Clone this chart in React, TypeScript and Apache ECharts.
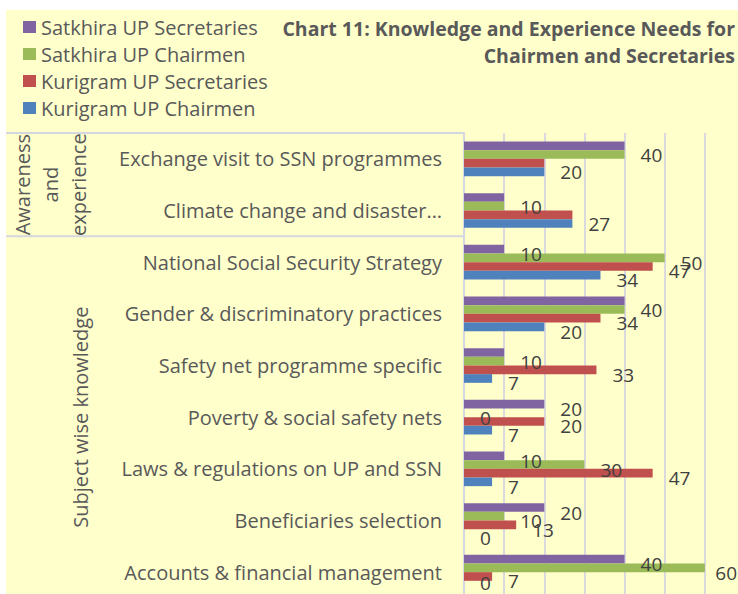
import React, { useEffect, useRef } from "react";
import * as echarts from "echarts";

const categories = [
  "Exchange visit to SSN programmes",
  "Climate change and disaster…",
  "National Social Security Strategy",
  "Gender & discriminatory practices",
  "Safety net programme specific",
  "Poverty & social safety nets",
  "Laws & regulations on UP and SSN",
  "Beneficiaries selection",
  "Accounts & financial management",
];
const seriesNames = [
  "Satkhira UP Secretaries",
  "Satkhira UP Chairmen",
  "Kurigram UP Secretaries",
  "Kurigram UP Chairmen",
];
const seriesColors = ["#8064A2", "#9BBB59", "#C0504D", "#4F81BD"];
const satkhiraSecretaries = [40, 10, 10, 40, 10, 20, 10, 20, 40];
const satkhiraChairmen = [40, 10, 50, 40, 10, 0, 30, 10, 60];
const kurigramSecretaries = [20, 27, 47, 34, 33, 20, 47, 13, 7];
const kurigramChairmen = [20, 27, 34, 20, 7, 7, 7, 0, 0];
const groupLabels = ["Awareness\nand\nexperience", "Subject wise knowledge"];
const groupStarts = [0, 2];
const groupEnds = [2, 9];
const titleText = "Chart 11: Knowledge and Experience Needs for\nChairmen and Secretaries";
const xMin = 0;
const xMax = 70;
const xInterval = 10;

const FONT = "'Open Sans', 'DejaVu Sans', sans-serif";
const TEXT = "#595959";

export default function App() {
  const ref = useRef<HTMLDivElement>(null);
  useEffect(() => {
    document.body.style.margin = "0";
    if (!ref.current) return;
    const chart = echarts.init(ref.current, undefined, { renderer: "svg" });
    const VISIBLE_W = 738;
    const VISIBLE_H = 594;
    const CW = 760;
    const CH = 620;
    const gridTop = 133;
    const gridHeight = 465;
    const gridLeft = 464;
    const gridWidth = 281;
    const band = gridHeight / categories.length;
    const barH = (band * 0.67) / 4;
    const baseOffset = 5;

    const all = [satkhiraSecretaries, satkhiraChairmen, kurigramSecretaries, kurigramChairmen];
    // identical adjacent values share one label, shown between the two bars
    const labelMode: string[][] = all.map(() => categories.map(() => "normal"));
    categories.forEach((_, i) => {
      for (let s = 0; s < all.length - 1; s++) {
        if (labelMode[s][i] === "normal" && all[s][i] === all[s + 1][i]) {
          labelMode[s][i] = "merged";
          labelMode[s + 1][i] = "hidden";
        }
      }
    });

    const series = all.map((vals, s) => ({
      name: seriesNames[s],
      type: "bar",
      barGap: "0%",
      barCategoryGap: "33%",
      itemStyle: { color: seriesColors[s] },
      label: {
        show: true,
        position: "right",
        distance: 16,
        color: "#404040",
        fontSize: 19,
        fontFamily: FONT,
      },
      labelLayout: (params: any) => {
        const r = params.labelRect;
        if (!r) return {};
        const m = labelMode[params.seriesIndex][params.dataIndex];
        let cy = r.y + r.height / 2 + baseOffset + (m === "merged" ? barH / 2 : 0);
        const maxBottom = VISIBLE_H - 2;
        if (cy + r.height / 2 > maxBottom) cy = maxBottom - r.height / 2;
        const out: any = { y: cy, verticalAlign: "middle" };
        const maxRight = VISIBLE_W - 1;
        if (r.x + r.width > maxRight) {
          out.x = maxRight - r.width;
          out.align = "left";
        }
        return out;
      },
      data: vals.map((v, i) => {
        const m = labelMode[s][i];
        if (m === "hidden") return { value: v, label: { show: false } };
        return v;
      }),
    }));

    const lineStyle = { stroke: "#D4D6E0", lineWidth: 2 };
    const graphics: any[] = [];
    groupStarts.forEach((g) => {
      const y = gridTop + g * band;
      graphics.push({
        type: "line",
        shape: { x1: 6, y1: y, x2: gridLeft, y2: y },
        style: lineStyle,
        z: 1,
      });
    });
    const groupX = [50, 80];
    groupLabels.forEach((t, k) => {
      const cy = gridTop + ((groupStarts[k] + groupEnds[k]) / 2) * band;
      graphics.push({
        type: "text",
        x: groupX[k],
        y: cy,
        rotation: Math.PI / 2,
        style: {
          text: t,
          align: "center",
          verticalAlign: "middle",
          fontSize: 20,
          fontFamily: FONT,
          fill: TEXT,
          lineHeight: 28,
        },
      });
    });
    graphics.push({
      type: "text",
      x: 735,
      y: 15,
      style: {
        text: titleText,
        align: "right",
        verticalAlign: "top",
        fontSize: 19.5,
        fontWeight: "bold",
        fontFamily: FONT,
        fill: TEXT,
        lineHeight: 27,
      },
    });

    chart.setOption({
      animation: false,
      legend: {
        data: seriesNames,
        orient: "vertical",
        left: 23,
        top: 17,
        padding: 0,
        itemWidth: 13,
        itemHeight: 12,
        itemGap: 7,
        icon: "rect",
        textStyle: { fontSize: 20, fontFamily: FONT, color: TEXT },
      },
      grid: {
        left: gridLeft,
        top: gridTop,
        right: CW - gridLeft - gridWidth,
        bottom: CH - gridTop - gridHeight,
        outerBoundsMode: "none",
        containLabel: false,
      },
      xAxis: {
        type: "value",
        min: xMin,
        max: xMax,
        interval: xInterval,
        axisLabel: { show: false },
        axisLine: { show: false },
        axisTick: { show: false },
        splitLine: { show: true, lineStyle: { color: "#D9D9DF", width: 2 } },
      },
      yAxis: {
        type: "category",
        inverse: true,
        data: categories,
        axisLine: { show: true, lineStyle: { color: "#D4D6E0", width: 2 } },
        axisTick: { show: false },
        axisLabel: { fontSize: 20, fontFamily: FONT, color: TEXT, margin: 22 },
      },
      graphic: graphics,
      series,
    });
    return () => chart.dispose();
  }, []);
  return (
    <div style={{ position: "relative", width: 738, height: 594, background: "#FFFFFF", overflow: "hidden" }}>
      <div style={{ position: "absolute", left: 6, top: 10, width: 732, height: 584, background: "#FFFFCC" }} />
      <div ref={ref} style={{ position: "absolute", left: 0, top: 0, width: 760, height: 620 }} />
    </div>
  );
}
